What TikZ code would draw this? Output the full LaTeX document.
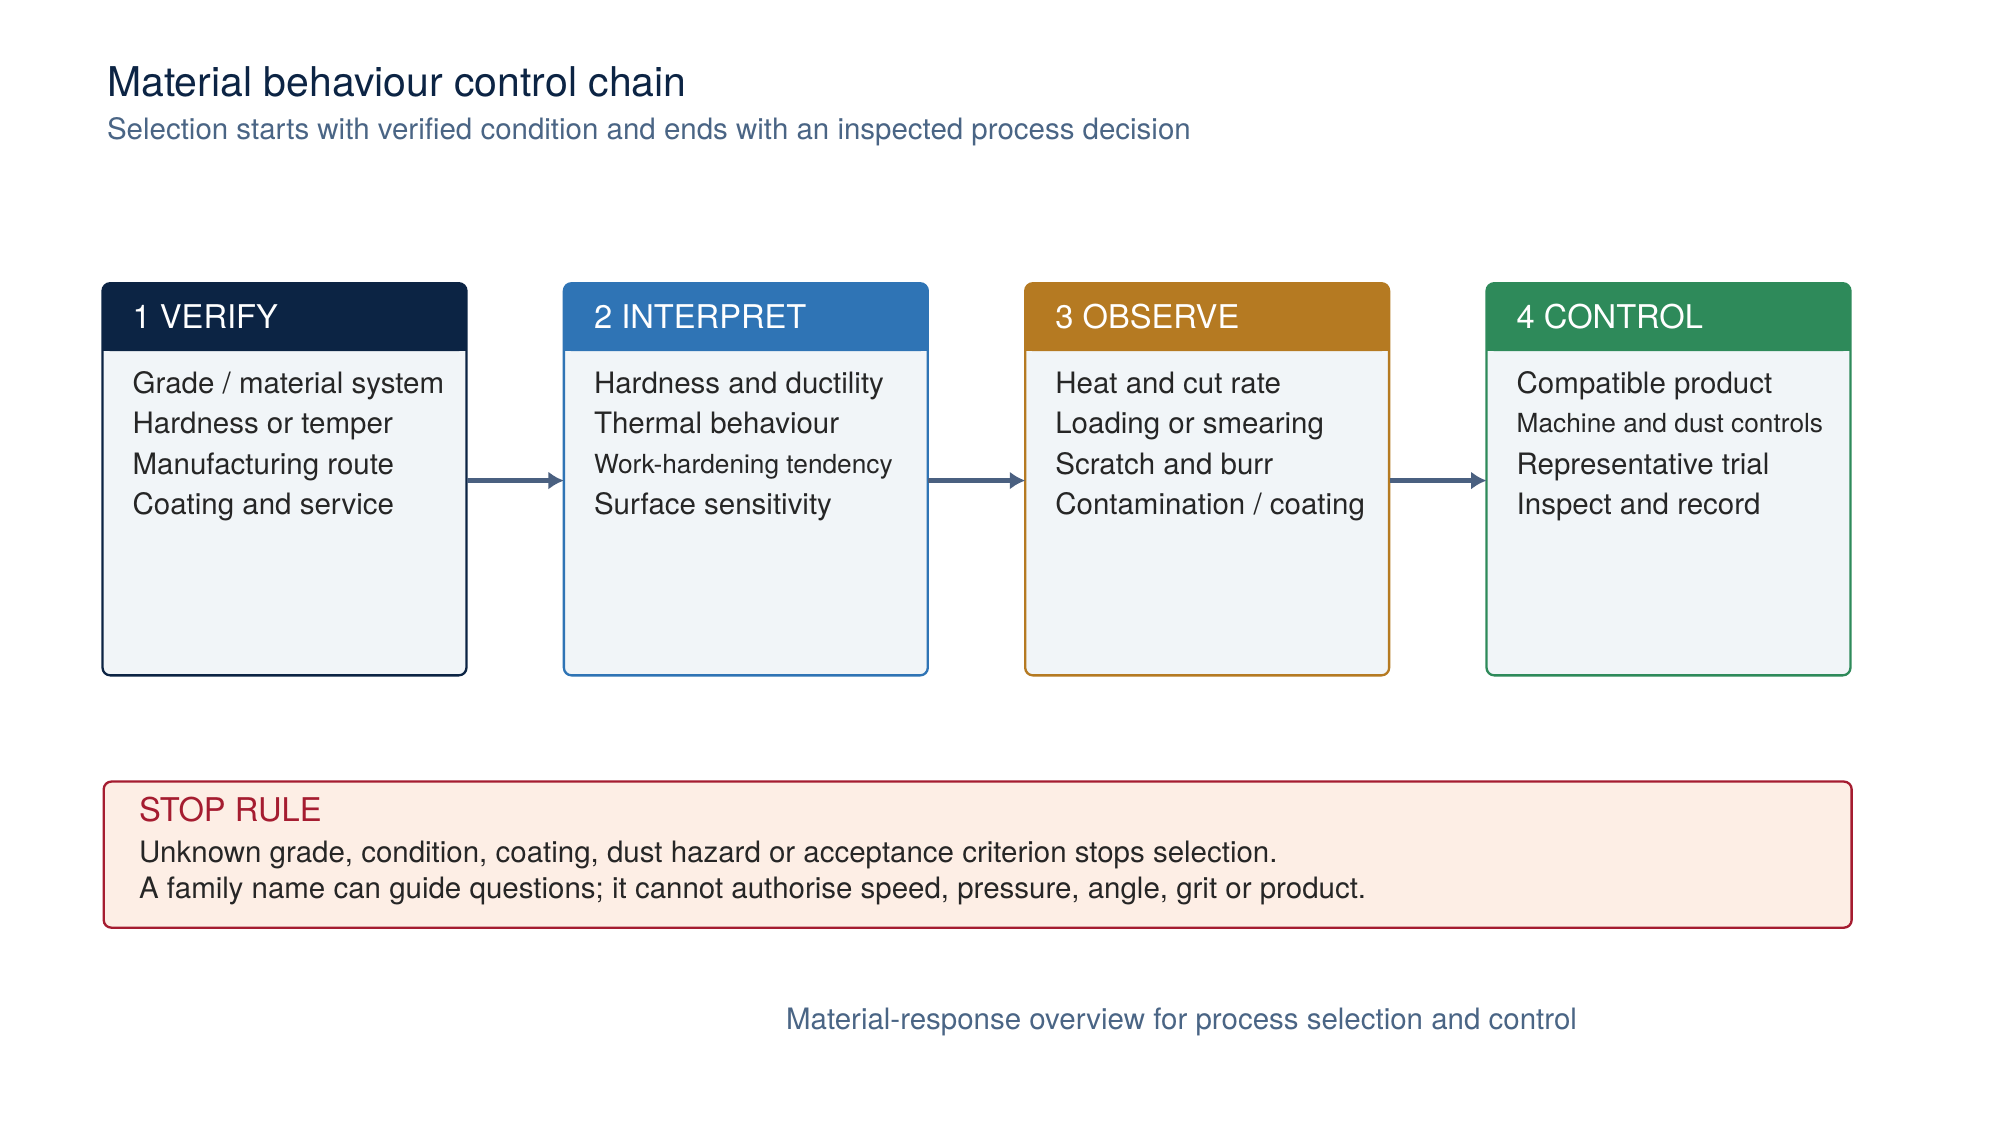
\documentclass[tikz,border=0pt]{standalone}
\usepackage{fontspec}
\setmainfont{TeX Gyre Heros}
\begin{document}
\begin{tikzpicture}[x=1pt,y=-1pt,
  body/.style={font=\fontsize{23}{23}\selectfont,text=black!85,anchor=base west},
  small/.style={font=\fontsize{20.5}{20.5}\selectfont,text=black!85,anchor=base west},
  head/.style={font=\fontsize{25.5}{25.5}\selectfont,text=white,anchor=base west},
  arr/.style={draw=arrowc,line width=3.5pt,-{Latex[length=12pt,width=14pt]}}]
\usetikzlibrary{arrows.meta}
\definecolor{slate}{HTML}{4A6585}
\definecolor{arrowc}{HTML}{4A6080}
\definecolor{cA}{HTML}{0C2444}
\definecolor{cB}{HTML}{2F74B5}
\definecolor{cC}{HTML}{B57A22}
\definecolor{cD}{HTML}{2E8A5A}
\definecolor{bodyf}{HTML}{F1F5F8}
\definecolor{stopf}{HTML}{FDEEE5}
\definecolor{stopc}{HTML}{A51C30}
\useasboundingbox[fill=white] (0,0) rectangle (1556,884);
\node[anchor=base west,font=\fontsize{32}{32}\selectfont,text=cA] (title) at (80,75) {Material behaviour control chain};
\node[anchor=base west,font=\fontsize{23}{23}\selectfont,text=slate] (sub) at (80,109) {Selection starts with verified condition and ends with an inspected process decision};
\foreach \x/\c/\n in {80/cA/a,440/cB/b,800/cC/c,1160/cD/d}{
  \draw[draw=\c,fill=bodyf,line width=1.8pt,rounded corners=6pt] (\x,221) rectangle ++(284,306);
  \fill[\c,rounded corners=6pt] (\x,221) rectangle ++(284,53);
  \fill[\c] (\x,250) rectangle ++(284,24);
  \node[draw=none,minimum width=284pt,minimum height=306pt,anchor=north west,inner sep=0pt] (\n) at (\x,221) {};
}
\node[head] at (100,256) {1 VERIFY};
\node[head] at (460,256) {2 INTERPRET};
\node[head] at (820,256) {3 OBSERVE};
\node[head] at (1180,256) {4 CONTROL};
\foreach \t [count=\i] in {Grade / material system,Hardness or temper,Manufacturing route,Coating and service}
  \node[body] at (100,307+31.6*\i-31.6) {\t};
\node[body] at (460,307) {Hardness and ductility};
\node[body] at (460,338.6) {Thermal behaviour};
\node[small] at (460,369.2) {Work-hardening tendency};
\node[body] at (460,401.8) {Surface sensitivity};
\foreach \t [count=\i] in {Heat and cut rate,Loading or smearing,Scratch and burr,Contamination / coating}
  \node[body] at (820,307+31.6*\i-31.6) {\t};
\node[body] at (1180,307) {Compatible product};
\node[small] at (1180,337.6) {Machine and dust controls};
\node[body] at (1180,370.2) {Representative trial};
\node[body] at (1180,401.8) {Inspect and record};
\coordinate (y) at (0,375);
\draw[arr] (a.east |- y) -- (b.west |- y);
\draw[arr] (b.east |- y) -- (c.west |- y);
\draw[arr] (c.east |- y) -- (d.west |- y);
\node[draw=stopc,fill=stopf,line width=1.8pt,rounded corners=6pt,minimum width=1364pt,minimum height=114pt,anchor=north west] (stop) at (80,609) {};
\node[anchor=base west,font=\fontsize{25.5}{25.5}\selectfont,text=stopc] at (105,641) {STOP RULE};
\node[body] at (105,673) {Unknown grade, condition, coating, dust hazard or acceptance criterion stops selection.};
\node[body] at (105,701) {A family name can guide questions; it cannot authorise speed, pressure, angle, grit or product.};
\node[anchor=base,font=\fontsize{23}{23}\selectfont,text=slate] (foot) at (922,803) {Material-response overview for process selection and control};
\end{tikzpicture}
\end{document}
